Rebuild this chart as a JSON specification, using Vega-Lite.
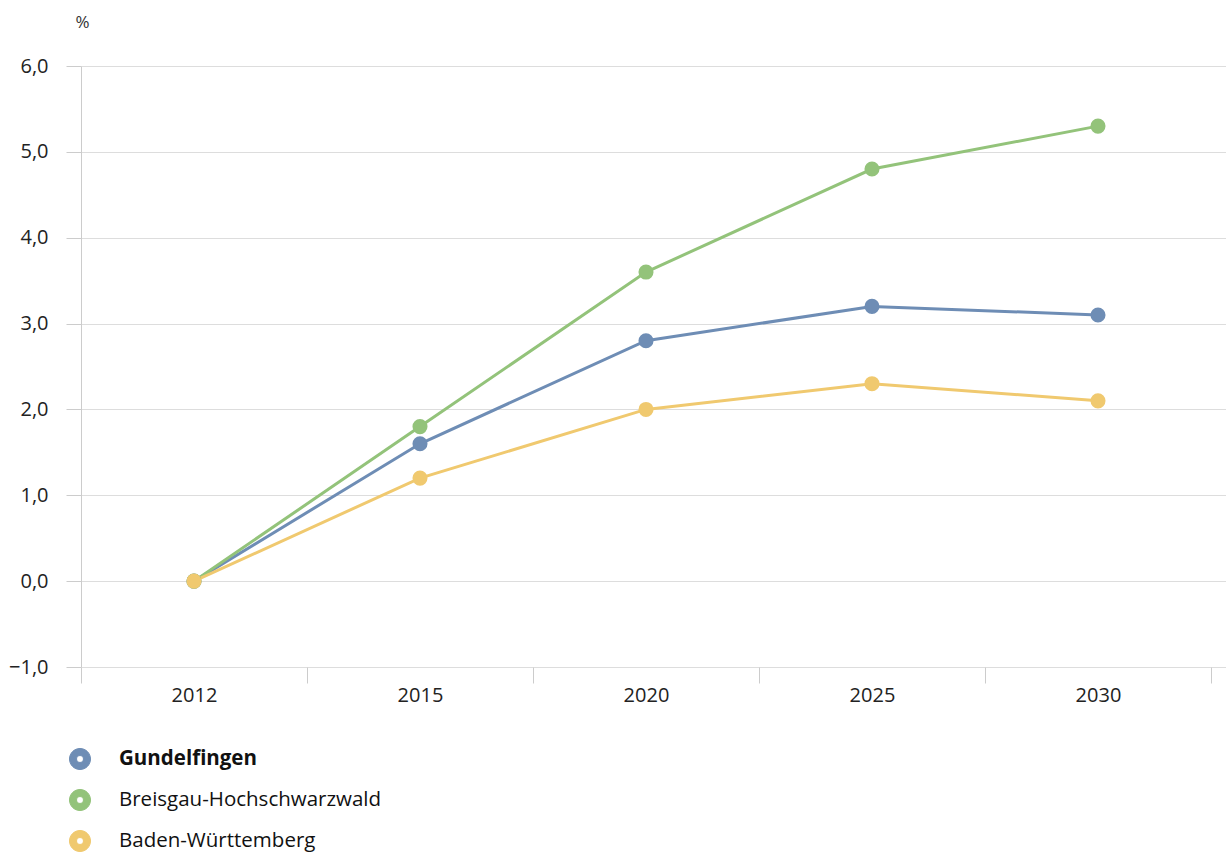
{
  "$schema": "https://vega.github.io/schema/vega-lite/v6.json",
  "autosize": "none",
  "width": 1145,
  "height": 601,
  "padding": {"left": 81, "top": 66, "right": 0, "bottom": 186},
  "background": "white",
  "config": {
    "view": {"stroke": null},
    "font": "Open Sans"
  },
  "data": {
    "values": [
      {"jahr": "2012", "region": "Gundelfingen", "wert": 0.0},
      {"jahr": "2015", "region": "Gundelfingen", "wert": 1.6},
      {"jahr": "2020", "region": "Gundelfingen", "wert": 2.8},
      {"jahr": "2025", "region": "Gundelfingen", "wert": 3.2},
      {"jahr": "2030", "region": "Gundelfingen", "wert": 3.1},
      {"jahr": "2012", "region": "Breisgau-Hochschwarzwald", "wert": 0.0},
      {"jahr": "2015", "region": "Breisgau-Hochschwarzwald", "wert": 1.8},
      {"jahr": "2020", "region": "Breisgau-Hochschwarzwald", "wert": 3.6},
      {"jahr": "2025", "region": "Breisgau-Hochschwarzwald", "wert": 4.8},
      {"jahr": "2030", "region": "Breisgau-Hochschwarzwald", "wert": 5.3},
      {"jahr": "2012", "region": "Baden-Württemberg", "wert": 0.0},
      {"jahr": "2015", "region": "Baden-Württemberg", "wert": 1.2},
      {"jahr": "2020", "region": "Baden-Württemberg", "wert": 2.0},
      {"jahr": "2025", "region": "Baden-Württemberg", "wert": 2.3},
      {"jahr": "2030", "region": "Baden-Württemberg", "wert": 2.1}
    ]
  },
  "encoding": {
    "x": {
      "field": "jahr",
      "type": "ordinal",
      "scale": {"paddingInner": 0, "paddingOuter": 0.0332, "align": 0},
      "axis": {
        "title": null,
        "labelAngle": 0,
        "labelFontSize": 20,
        "labelColor": "#222",
        "labelPadding": 2,
        "tickBand": "extent",
        "tickSize": 16,
        "tickColor": "#cccccc",
        "tickWidth": 1,
        "domain": false,
        "grid": false
      }
    },
    "y": {
      "field": "wert",
      "type": "quantitative",
      "scale": {"domain": [-1, 6], "nice": false, "zero": false},
      "axis": {
        "values": [-1, 0, 1, 2, 3, 4, 5, 6],
        "labelExpr": "replace(format(datum.value, '.1f'), '.', ',')",
        "labelFontSize": 20,
        "labelColor": "#222",
        "labelPadding": 18,
        "tickSize": 15,
        "tickColor": "#cccccc",
        "grid": true,
        "gridColor": "#dddddd",
        "domain": true,
        "domainColor": "#cccccc",
        "title": "%",
        "titleAngle": 0,
        "titleFontWeight": "normal",
        "titleFontSize": 17,
        "titleColor": "#333",
        "titleX": 1,
        "titleY": -44,
        "titleAlign": "center",
        "titleBaseline": "middle"
      }
    }
  },
  "layer": [
    {
      "mark": {"type": "line", "strokeWidth": 3},
      "encoding": {
        "stroke": {
          "field": "region",
          "type": "nominal",
          "scale": {
            "domain": ["Gundelfingen", "Breisgau-Hochschwarzwald", "Baden-Württemberg"],
            "range": ["#6e8db5", "#93c37a", "#f0c96f"]
          },
          "legend": {
            "title": null,
            "orient": "none",
            "legendX": -12,
            "legendY": 682,
            "symbolType": "M -1 0 A 1 1 0 1 0 1 0 A 1 1 0 1 0 -1 0 Z M -0.33 0 A 0.33 0.33 0 1 1 0.33 0 A 0.33 0.33 0 1 1 -0.33 0 Z",
            "symbolSize": 441,
            "symbolStrokeWidth": 1,
            "symbolOpacity": 1,
            "labelFontSize": 20.5,
            "labelColor": "#111",
            "labelOffset": 28,
            "labelLimit": 500,
            "rowPadding": 15,
            "padding": 0,
            "encode": {
              "labels": {"update": {"fontWeight": [{"test": "datum.label === 'Gundelfingen'", "value": "bold"}, {"value": "normal"}]}}
            }
          }
        }
      }
    },
    {
      "mark": {"type": "point", "filled": true, "size": 227, "opacity": 1},
      "encoding": {
        "fill": {
          "field": "region",
          "type": "nominal",
          "scale": {
            "domain": ["Gundelfingen", "Breisgau-Hochschwarzwald", "Baden-Württemberg"],
            "range": ["#6e8db5", "#93c37a", "#f0c96f"]
          },
          "legend": null
        }
      }
    }
  ]
}
